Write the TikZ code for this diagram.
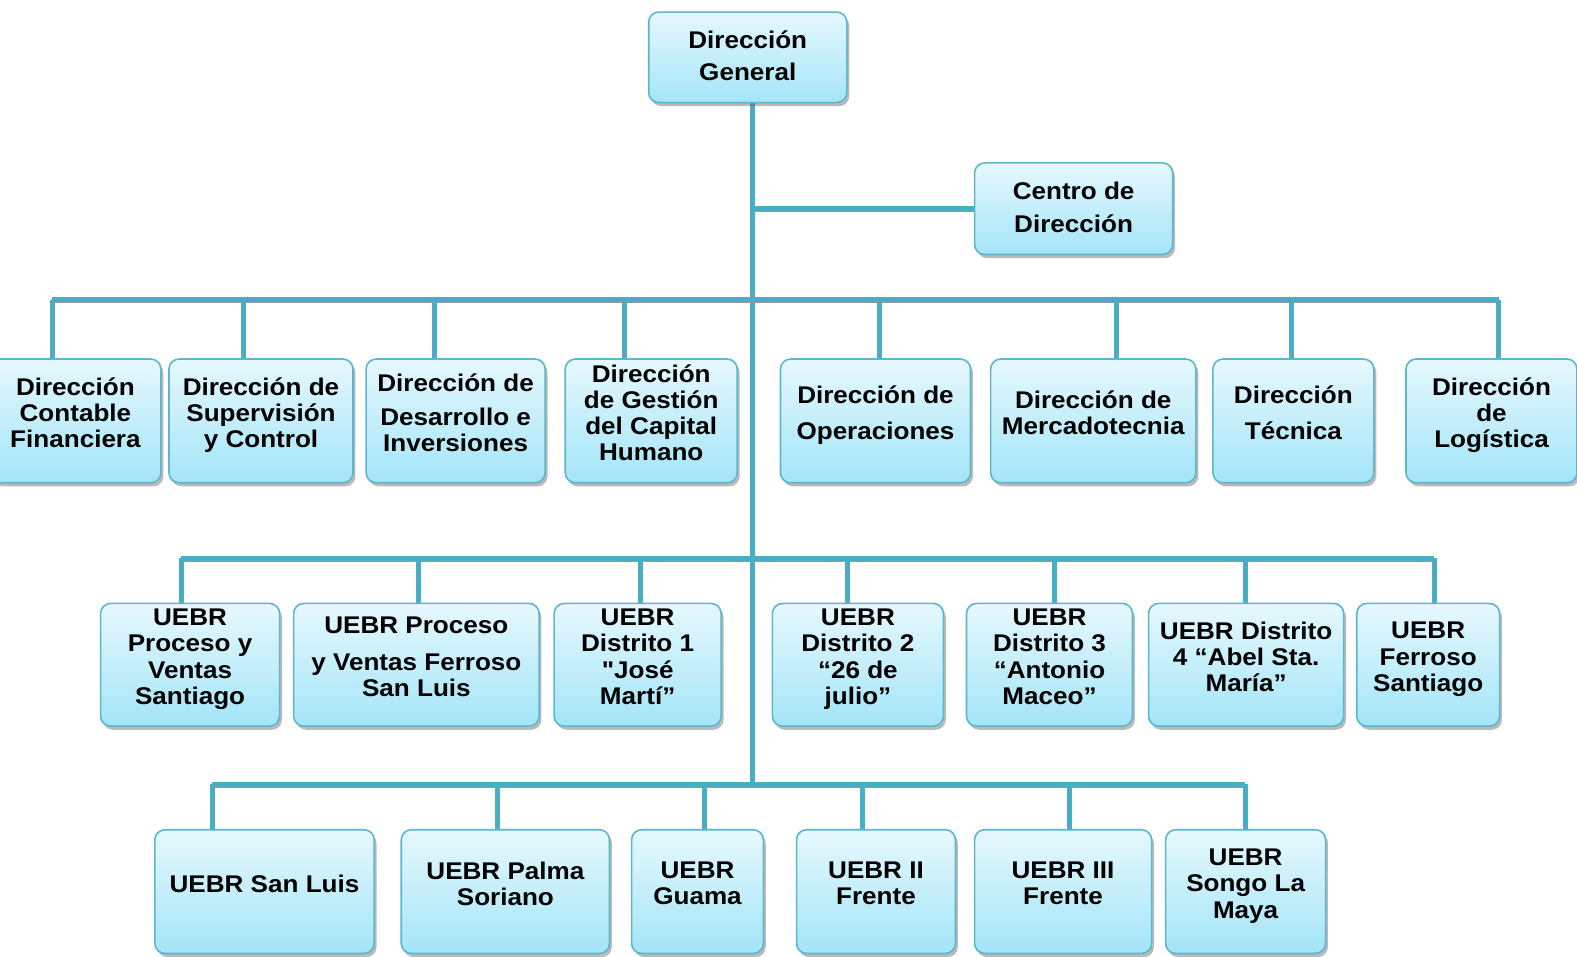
\documentclass[tikz,border=0pt]{standalone}
\usepackage{fontspec}
\setmainfont{Liberation Sans}[FakeStretch=1.08, Ligatures=TeXOff]
\usepackage{tikz}
\usetikzlibrary{shadows,backgrounds}
\definecolor{linkblue}{HTML}{4BACC6}
\definecolor{boxline}{HTML}{5DB6CE}
\definecolor{boxtop}{HTML}{E6F8FD}
\definecolor{boxbot}{HTML}{A3E5F8}
\tikzset{
	boxbase/.style={draw=boxline, line width=0.8pt, rounded corners=5pt, top color=boxtop, bottom color=boxbot,
		align=center, inner sep=1pt,
		drop shadow={shadow xshift=1.2pt, shadow yshift=-1.8pt, fill=black!60, opacity=0.45}},
	box/.style={boxbase, font=\fontsize{12}{13}\selectfont\bfseries,
		execute at end node={\rule[-8pt]{0pt}{0pt}}},
	bigbox/.style={boxbase, font=\fontsize{12}{16}\selectfont\bfseries,
		execute at end node={\rule[-1.5pt]{0pt}{0pt}}},
	link/.style={line width=2.5pt, draw=linkblue,
		preaction={draw=black!40, transform canvas={shift={(0.6pt,-1.5pt)}}}}
}

\begin{document}
\begin{tikzpicture}[x=0.5pt, y=-0.5pt]
	%%%%% START %%%%%
	\useasboundingbox (0, 0) rectangle (1568, 951);
	
	\node[bigbox, minimum width=98.5pt, minimum height=45pt] (dg) at (743.5, 57) {Dirección\\General};
	\node[bigbox, minimum width=98.5pt, minimum height=45.5pt] (cd) at (1067.5, 207.5) {Centro de\\Dirección};
	
	% direcciones
	\node[box, minimum width=85pt, minimum height=61.5pt] (a1) at (75, 418.5) {Dirección\\Contable\\Financiera};
	\node[box, minimum width=91.5pt, minimum height=61.5pt] (a2) at (259.5, 418.5) {Dirección de\\Supervisión\\y Control};
	\node[box, minimum width=89pt, minimum height=61.5pt] (a3) at (453, 418.5) {Dirección de\\[4pt]Desarrollo e\\Inversiones};
	\node[box, minimum width=85.5pt, minimum height=61.5pt] (a4) at (647.5, 418.5) {Dirección\\de Gestión\\del Capital\\Humano};
	\node[box, minimum width=94.5pt, minimum height=61.5pt] (a5) at (870.5, 418.5) {Dirección de\\[5pt]Operaciones};
	\node[box, minimum width=102pt, minimum height=61.5pt] (a6) at (1087, 418.5) {Dirección de\\Mercadotecnia};
	\node[box, minimum width=80pt, minimum height=61.5pt] (a7) at (1286, 418.5) {Dirección\\[5pt]Técnica};
	\node[box, minimum width=85pt, minimum height=61.5pt] (a8) at (1483, 418.5) {Dirección\\de\\Logística};
	
	% UEBR fila 1
	\node[box, minimum width=89pt, minimum height=61pt] (b1) at (189, 661) {UEBR\\Proceso y\\Ventas\\Santiago};
	\node[box, minimum width=122pt, minimum height=61pt] (b2) at (414, 661) {UEBR Proceso\\[5pt]y Ventas Ferroso\\San Luis};
	\node[box, minimum width=83pt, minimum height=61pt] (b3) at (634, 661) {UEBR\\Distrito 1\\"José\\Martí”};
	\node[box, minimum width=85pt, minimum height=61pt] (b4) at (853, 661) {UEBR\\Distrito 2\\“26 de\\julio”};
	\node[box, minimum width=82.5pt, minimum height=61pt] (b5) at (1043.5, 661) {UEBR\\Distrito 3\\“Antonio\\Maceo”};
	\node[box, minimum width=97pt, minimum height=61pt] (b6) at (1239, 661) {UEBR Distrito\\4 “Abel Sta.\\María”};
	\node[box, minimum width=71pt, minimum height=61pt] (b7) at (1420, 661) {UEBR\\Ferroso\\Santiago};
	
	% UEBR fila 2
	\node[box, minimum width=109pt, minimum height=61.5pt] (c1) at (263, 886.5) {UEBR San Luis};
	\node[box, minimum width=103.5pt, minimum height=61.5pt] (c2) at (502.5, 886.5) {UEBR Palma\\Soriano};
	\node[box, minimum width=65.5pt, minimum height=61.5pt] (c3) at (693.5, 886.5) {UEBR\\Guama};
	\node[box, minimum width=79pt, minimum height=61.5pt] (c4) at (871, 886.5) {UEBR II\\Frente};
	\node[box, minimum width=88pt, minimum height=61.5pt] (c5) at (1057, 886.5) {UEBR III\\Frente};
	\node[box, minimum width=79.5pt, minimum height=61.5pt] (c6) at (1238.5, 886.5) {UEBR\\Songo La\\Maya};
	
	\coordinate (t) at (748, 780);
	\coordinate (l1) at (52, 298);
	\coordinate (r1) at (1490, 298);
	\coordinate (l2) at (180, 555);
	\coordinate (r2) at (1426, 555);
	\coordinate (l3) at (211, 780);
	\coordinate (r3) at (1238, 780);
	
	\begin{scope}[on background layer]
		\draw[link] (dg.south -| t) -- (t);
		\draw[link] (cd.west) -- (cd.west -| t);
		\draw[link] (l1) -- (r1);
		\draw[link] (l2) -- (r2);
		\draw[link] (l3) -- (r3);
		\foreach \n/\x in {a1/52, a2/242, a3/432, a4/621, a5/874, a6/1110, a7/1284, a8/1490} {
			\coordinate (d) at (\x, 298);
			\draw[link] (d) -- (d |- \n.north);
		}
		\foreach \n/\x in {b1/180, b2/416, b3/637, b4/843, b5/1048, b6/1238, b7/1426} {
			\coordinate (d) at (\x, 555);
			\draw[link] (d) -- (d |- \n.north);
		}
		\foreach \n/\x in {c1/211, c2/495, c3/700, c4/858, c5/1063, c6/1238} {
			\coordinate (d) at (\x, 780);
			\draw[link] (d) -- (d |- \n.north);
		}
	\end{scope}
	%%%%% END %%%%%
\end{tikzpicture}
\end{document}
